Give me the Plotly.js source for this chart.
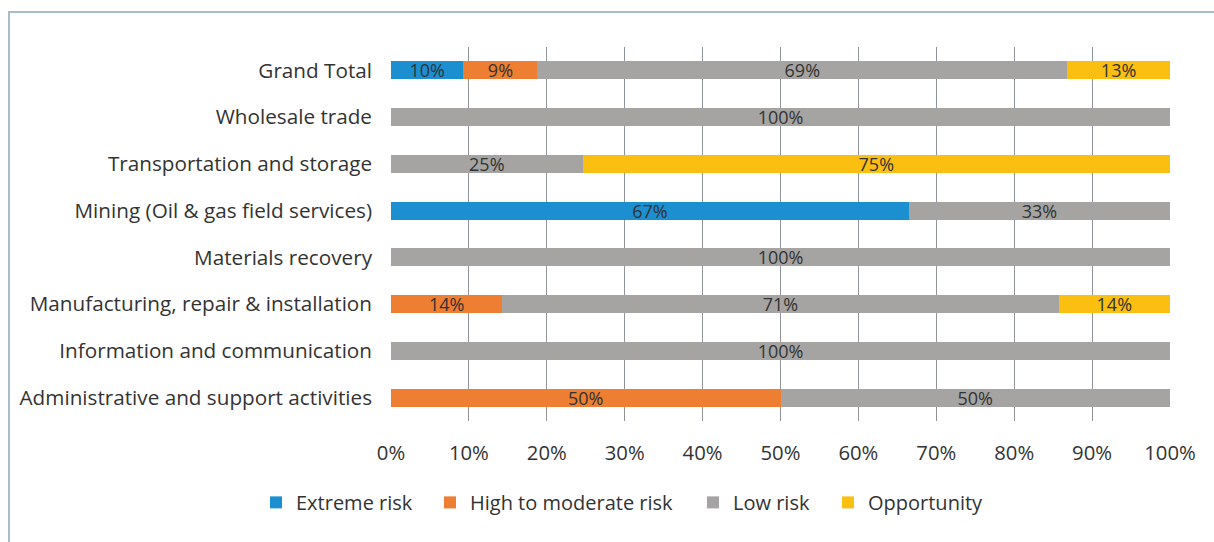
<!DOCTYPE html>
<html>
<head>
<meta charset="utf-8">
<script src="https://cdn.plot.ly/plotly-3.0.1.min.js"></script>
<style>
  html, body { margin: 0; padding: 0; background: #ffffff; }
  #chart { width: 1214px; height: 542px; }
  #frame { position: absolute; left: 8px; top: 11px; width: 1400px; height: 800px;
           border: 2px solid #a8bdc8; pointer-events: none; box-sizing: border-box; }
</style>
</head>
<body>
<div id="chart"></div>
<div id="frame"></div>
<script>
// Categories, top to bottom
const categories = [
  "Grand Total",
  "Wholesale trade",
  "Transportation and storage",
  "Mining (Oil & gas field services)",
  "Materials recovery",
  "Manufacturing, repair & installation",
  "Information and communication",
  "Administrative and support activities"
];

const seriesNames = ["Extreme risk", "High to moderate risk", "Low risk", "Opportunity"];
const seriesColors = ["#1b8fd0", "#ee7e31", "#a5a4a2", "#fbbf12"];

// Bar lengths (% of row)
const extremeRisk  = [9.3,  0,   0,    66.5, 0,   0,    0,   0];
const highModerate = [9.5,  0,   0,    0,    0,   14.3, 0,   50];
const lowRisk      = [68.0, 100, 24.6, 33.5, 100, 71.4, 100, 50];
const opportunity  = [13.2, 0,   75.4, 0,    0,   14.3, 0,   0];

// Data labels as printed in the chart
const extremeLabels  = ["10%", "", "", "67%", "", "", "", ""];
const highLabels     = ["9%", "", "", "", "", "14%", "", "50%"];
const lowLabels      = ["69%", "100%", "25%", "33%", "100%", "71%", "100%", "50%"];
const oppLabels      = ["13%", "", "75%", "", "", "14%", "", ""];

// x-axis ticks
const tickVals = [0, 10, 20, 30, 40, 50, 60, 70, 80, 90, 100];
const tickText = ["0%", "10%", "20%", "30%", "40%", "50%", "60%", "70%", "80%", "90%", "100%"];

const values = [extremeRisk, highModerate, lowRisk, opportunity];
const labels = [extremeLabels, highLabels, lowLabels, oppLabels];
const legendIds = ["legend", "legend2", "legend3", "legend4"];

const traces = seriesNames.map((name, i) => ({
  type: "bar",
  orientation: "h",
  name: name,
  y: categories,
  x: values[i],
  text: labels[i],
  texttemplate: "%{text}",
  textposition: "inside",
  insidetextanchor: "middle",
  constraintext: "none",
  cliponaxis: false,
  textangle: 0,
  textfont: { family: "Open Sans", size: 18, color: "#333333" },
  marker: { color: seriesColors[i], line: { width: 0 } },
  hoverinfo: "name+x",
  legend: legendIds[i]
}));

const legendFont = { family: "Open Sans", size: 20, color: "#333333" };
function legendAt(px) {
  return {
    orientation: "h",
    x: (px - 391) / 779,
    xanchor: "left",
    y: -0.2176,
    yanchor: "middle",
    font: legendFont,
    bgcolor: "rgba(0,0,0,0)",
    borderwidth: 0
  };
}

const layout = {
  width: 1214,
  height: 542,
  margin: { l: 391, r: 44, t: 47, b: 121, pad: 0 },
  paper_bgcolor: "#ffffff",
  plot_bgcolor: "#ffffff",
  barmode: "stack",
  bargap: 0.616,
  font: { family: "Open Sans", size: 20, color: "#333333" },
  xaxis: {
    range: [0, 100],
    tickvals: tickVals,
    ticktext: tickText,
    showgrid: true,
    gridcolor: "#8f959b",
    gridwidth: 1,
    zeroline: false,
    showline: false,
    ticks: "",
    ticklabelstandoff: 18,
    tickfont: { family: "Open Sans", size: 20.3, color: "#333333" },
    fixedrange: true
  },
  yaxis: {
    type: "category",
    categoryorder: "array",
    categoryarray: categories,
    autorange: "reversed",
    showgrid: false,
    zeroline: false,
    showline: false,
    ticks: "",
    ticklabelstandoff: 18,
    tickfont: { family: "Open Sans", size: 20.7, color: "#333333" },
    fixedrange: true
  },
  showlegend: true,
  legend: legendAt(256),
  legend2: legendAt(430),
  legend3: legendAt(693),
  legend4: legendAt(828)
};

Plotly.newPlot("chart", traces, layout, { displayModeBar: false, staticPlot: false });
</script>
</body>
</html>
